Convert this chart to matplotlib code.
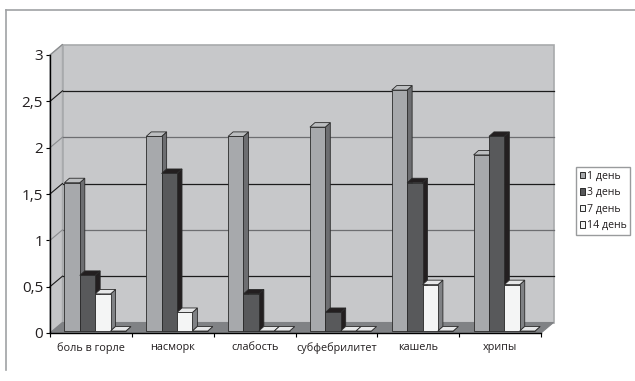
import matplotlib
matplotlib.use('Agg')
import matplotlib.pyplot as plt
from matplotlib.patches import Polygon, Patch

plt.rcParams['font.family'] = ['Open Sans', 'DejaVu Sans']

# --Data
categories = ['боль в горле', 'насморк', 'слабость', 'субфебрилитет', 'кашель', 'хрипы']
day1 = [1.6, 2.1, 2.1, 2.2, 2.6, 1.9]
day3 = [0.6, 1.7, 0.4, 0.2, 1.6, 2.1]
day7 = [0.4, 0.2, 0, 0, 0.5, 0.5]
day14 = [0, 0, 0, 0, 0, 0]
series_names = ['1 день', '3 день', '7 день', '14 день']
y_ticks = [0, 0.5, 1, 1.5, 2, 2.5, 3]
y_labels = ['0', '0,5', '1', '1,5', '2', '2,5', '3']

# front, side, top
colors = [('#a7a9ac', '#6d6e71', '#bcbec0'),
          ('#58595b', '#231f20', '#231f20'),
          ('#f4f5f5', '#808285', '#e6e7e8'),
          ('#f4f5f5', '#808285', '#e6e7e8')]

W, H = 635, 381
fig = plt.figure(figsize=(W / 100, H / 100), dpi=100)
x0, x1, y0, y1 = 50, 541, 333, 55
ax = fig.add_axes([x0 / W, 1 - y0 / H, (x1 - x0) / W, (y0 - y1) / H])
ax.set_xlim(0, 6)
ax.set_ylim(0, 3)
ax.patch.set_visible(False)

# depth of the fake 3d box and of the bars, in data units
px = 6 / (x1 - x0)
py = 3 / (y0 - y1)
dx, dy = 12.5 * px, 10.5 * py
bdx, bdy = 5 * px, 4.5 * py
inset_x, inset_y = 0.5 * px, 2 * py

edge = '#a8aaac'
# back wall, left wall, floor
ax.add_patch(Polygon([(dx, dy), (6 + dx, dy), (6 + dx, 3 + dy), (dx, 3 + dy)],
                     fc='#c7c8ca', ec=edge, lw=1.2, zorder=1, clip_on=False))
ax.add_patch(Polygon([(0, 0), (dx, dy), (dx, 3 + dy), (0, 3)],
                     fc='#c4c5c7', ec=edge, lw=1, zorder=1, clip_on=False))
ax.add_patch(Polygon([(0, 0), (6, 0), (6 + dx, dy), (dx, dy)],
                     fc='#808285', ec='#808285', lw=0.8, zorder=2, clip_on=False))

# grid on the walls, every other line came out grey in the print
for i, t in enumerate(y_ticks[1:-1]):
    c = '#1c1c1c' if i % 2 == 0 else '#6d6e71'
    ax.plot([dx, 6 + dx], [t + dy, t + dy], color=c, lw=0.9, zorder=2, clip_on=False)
for i, t in enumerate(y_ticks[1:]):
    c = '#1c1c1c' if i % 2 == 0 else '#8a8c8e'
    ax.plot([0, dx], [t, t + dy], color=c, lw=0.8, zorder=2, clip_on=False)

# bars
bar_w = 0.188
start = 0.17
series = [day1, day3, day7, day14]
for s, vals in enumerate(series):
    front, side, top = colors[s]
    for c, v in enumerate(vals):
        left = c + start + s * bar_w + inset_x
        right = left + bar_w
        z = 3 + s * 0.1
        ax.bar(left, v, width=bar_w, bottom=inset_y, align='edge', fc=front,
               ec='#2a2a2a', lw=0.6, zorder=z + 0.02, clip_on=False)
        b, t = inset_y, inset_y + v
        ax.add_patch(Polygon([(right, b), (right + bdx, b + bdy), (right + bdx, t + bdy), (right, t)],
                             fc=side, ec='#2a2a2a', lw=0.6, zorder=z, clip_on=False))
        ax.add_patch(Polygon([(left, t), (right, t), (right + bdx, t + bdy), (left + bdx, t + bdy)],
                             fc=top, ec='#2a2a2a', lw=0.6, zorder=z, clip_on=False))

# axes
ax.spines['top'].set_visible(False)
ax.spines['right'].set_visible(False)
ax.spines['left'].set_linewidth(1)
ax.spines['bottom'].set_linewidth(1)
for sp in ax.spines.values():
    sp.set_zorder(5)
ax.set_yticks(y_ticks)
ax.set_yticklabels(y_labels, fontsize=11, color='#231f20')
ax.tick_params(axis='y', length=3, width=0.8, pad=2)
ax.set_xticks(range(7))
ax.set_xticklabels([])
ax.tick_params(axis='x', length=3, width=0.8)
ax.set_xticks([i + 0.5 for i in range(6)], minor=True)
ax.set_xticklabels(categories, minor=True, fontsize=7.8, color='#231f20')
ax.tick_params(axis='x', which='minor', length=0, pad=6.5)

# legend
handles = [Patch(fc=colors[i][0], ec='#2a2a2a', lw=0.7, label=series_names[i]) for i in range(4)]
leg = fig.legend(handles=handles, loc='upper left', bbox_to_anchor=(576 / W, 1 - 167 / H),
                 bbox_transform=fig.transFigure, fontsize=7.6, frameon=True, fancybox=False,
                 borderaxespad=0, borderpad=0.35, labelspacing=0.52, handlelength=0.5,
                 handleheight=0.6, handletextpad=0.15, edgecolor='#808285', labelcolor='#231f20')
leg.get_frame().set_linewidth(1)

# outer chart frame, only top and left survive in the scan
fig.add_artist(plt.Line2D([6 / W, 6 / W], [1 - 10 / H, 1 - 370 / H], color='#a0a2a4', lw=1.2))
fig.add_artist(plt.Line2D([6 / W, 1], [1 - 10 / H, 1 - 10 / H], color='#a0a2a4', lw=1.2))

fig.savefig('out.png', dpi=100)
